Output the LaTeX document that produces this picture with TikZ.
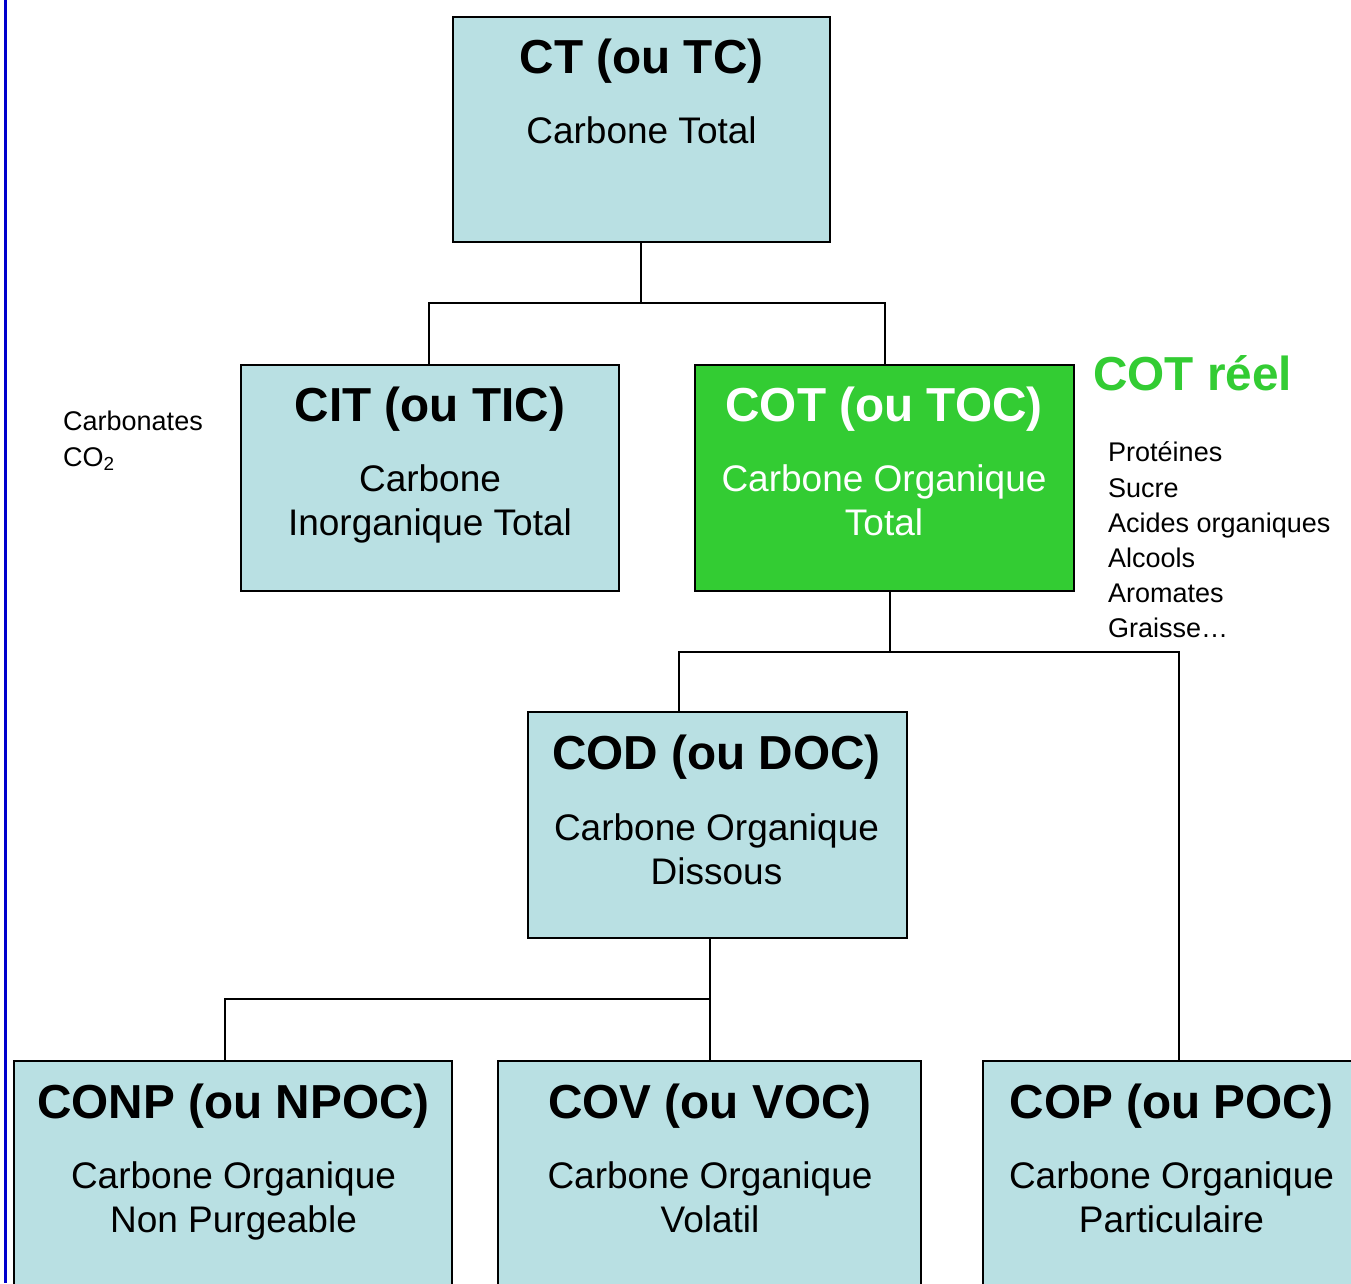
\documentclass[tikz,border=0pt]{standalone}
\usepackage{fontspec}
\setmainfont{Liberation Sans}
\definecolor{boxblue}{RGB}{185,224,227}
\definecolor{cotgreen}{RGB}{51,204,51}
\definecolor{edgeblue}{RGB}{0,0,204}
\tikzset{
  box/.style={draw=black, line width=2.5pt, fill=boxblue, rectangle, inner sep=0pt, outer sep=0pt},
  ttl/.style={anchor=base, font=\fontsize{47.7}{57}\selectfont\bfseries, inner sep=0pt},
  sub/.style={anchor=base, font=\fontsize{37}{44}\selectfont, inner sep=0pt},
  small/.style={anchor=base west, font=\fontsize{27}{32}\selectfont, inner sep=0pt},
  link/.style={line width=2pt, draw=black},
}
\begin{document}
\begin{tikzpicture}[x=1pt,y=-1pt]
\clip (0,0) rectangle (1351,1283);
\fill[white] (0,0) rectangle (1351,1283);
\draw[edgeblue, line width=3pt] (5.5,0) -- (5.5,1283);

% boxes
\node[box, minimum width=377pt, minimum height=225pt] (ct) at (641.5,129.5) {};
\node[box, minimum width=378pt, minimum height=226pt] (cit) at (430,478) {};
\node[box, fill=cotgreen, minimum width=379pt, minimum height=226pt] (cot) at (884.5,478) {};
\node[box, minimum width=379pt, minimum height=226pt] (cod) at (717.5,825) {};
\node[box, minimum width=438pt, minimum height=239pt] (conp) at (233,1180.5) {};
\node[box, minimum width=423pt, minimum height=239pt] (cov) at (709.5,1180.5) {};
\node[box, minimum width=392pt, minimum height=239pt] (cop) at (1179,1180.5) {};

% junctions
\coordinate (j1) at (641,303);
\coordinate (j2) at (890,652);
\coordinate (j3) at (710,999);

\draw[link] (ct.south -| j1) -- (j1);
\draw[link] (cit.north -| 429,0) |- (j1) -| (cot.north);
\draw[link] (cot.south -| j2) -- (j2);
\draw[link] (cod.north -| 679,0) |- (j2) -| (cop.north);
\draw[link] (cod.south -| j3) -- (j3);
\draw[link] (conp.north -| 225,0) |- (j3) -- (cov.north -| j3);

% texts
\node[ttl] (ct-t) at (641.5,73) {CT (ou TC)};
\node[sub] (ct-s) at (641.5,143) {Carbone Total};

\node[ttl] (cit-t) at (430,421) {CIT (ou TIC)};
\node[sub] (cit-s1) at (430,491) {Carbone};
\node[sub] (cit-s2) at (430,535) {Inorganique Total};

\node[ttl, text=white] (cot-t) at (884,421) {COT (ou TOC)};
\node[sub, text=white] (cot-s1) at (884,491) {Carbone Organique};
\node[sub, text=white] (cot-s2) at (884,535) {Total};

\node[ttl] (cod-t) at (716.5,769) {COD (ou DOC)};
\node[sub] (cod-s1) at (716.5,840) {Carbone Organique};
\node[sub] (cod-s2) at (716.5,884) {Dissous};

\node[ttl] (conp-t) at (233.5,1118) {CONP (ou NPOC)};
\node[sub] (conp-s1) at (233.5,1188) {Carbone Organique};
\node[sub] (conp-s2) at (233.5,1232) {Non Purgeable};

\node[ttl] (cov-t) at (710,1118) {COV (ou VOC)};
\node[sub] (cov-s1) at (710,1188) {Carbone Organique};
\node[sub] (cov-s2) at (710,1232) {Volatil};

\node[ttl] (cop-t) at (1171.5,1118) {COP (ou POC)};
\node[sub] (cop-s1) at (1171.5,1188) {Carbone Organique};
\node[sub] (cop-s2) at (1171.5,1232) {Particulaire};

% side texts
\node[small] (carb) at (63,430) {Carbonates};
\node[small] (co2) at (63,466) {CO\textsubscript{2}};

\node[anchor=base west, inner sep=0pt, font=\fontsize{47.7}{57}\selectfont\bfseries, text=cotgreen] (reel) at (1093,390) {COT réel};
\node[small] (l1) at (1108,461) {Protéines};
\node[small] (l2) at (1108,497) {Sucre};
\node[small] (l3) at (1108,532) {Acides organiques};
\node[small] (l4) at (1108,567) {Alcools};
\node[small] (l5) at (1108,602) {Aromates};
\node[small] (l6) at (1108,637) {Graisse…};
\end{tikzpicture}
\end{document}
